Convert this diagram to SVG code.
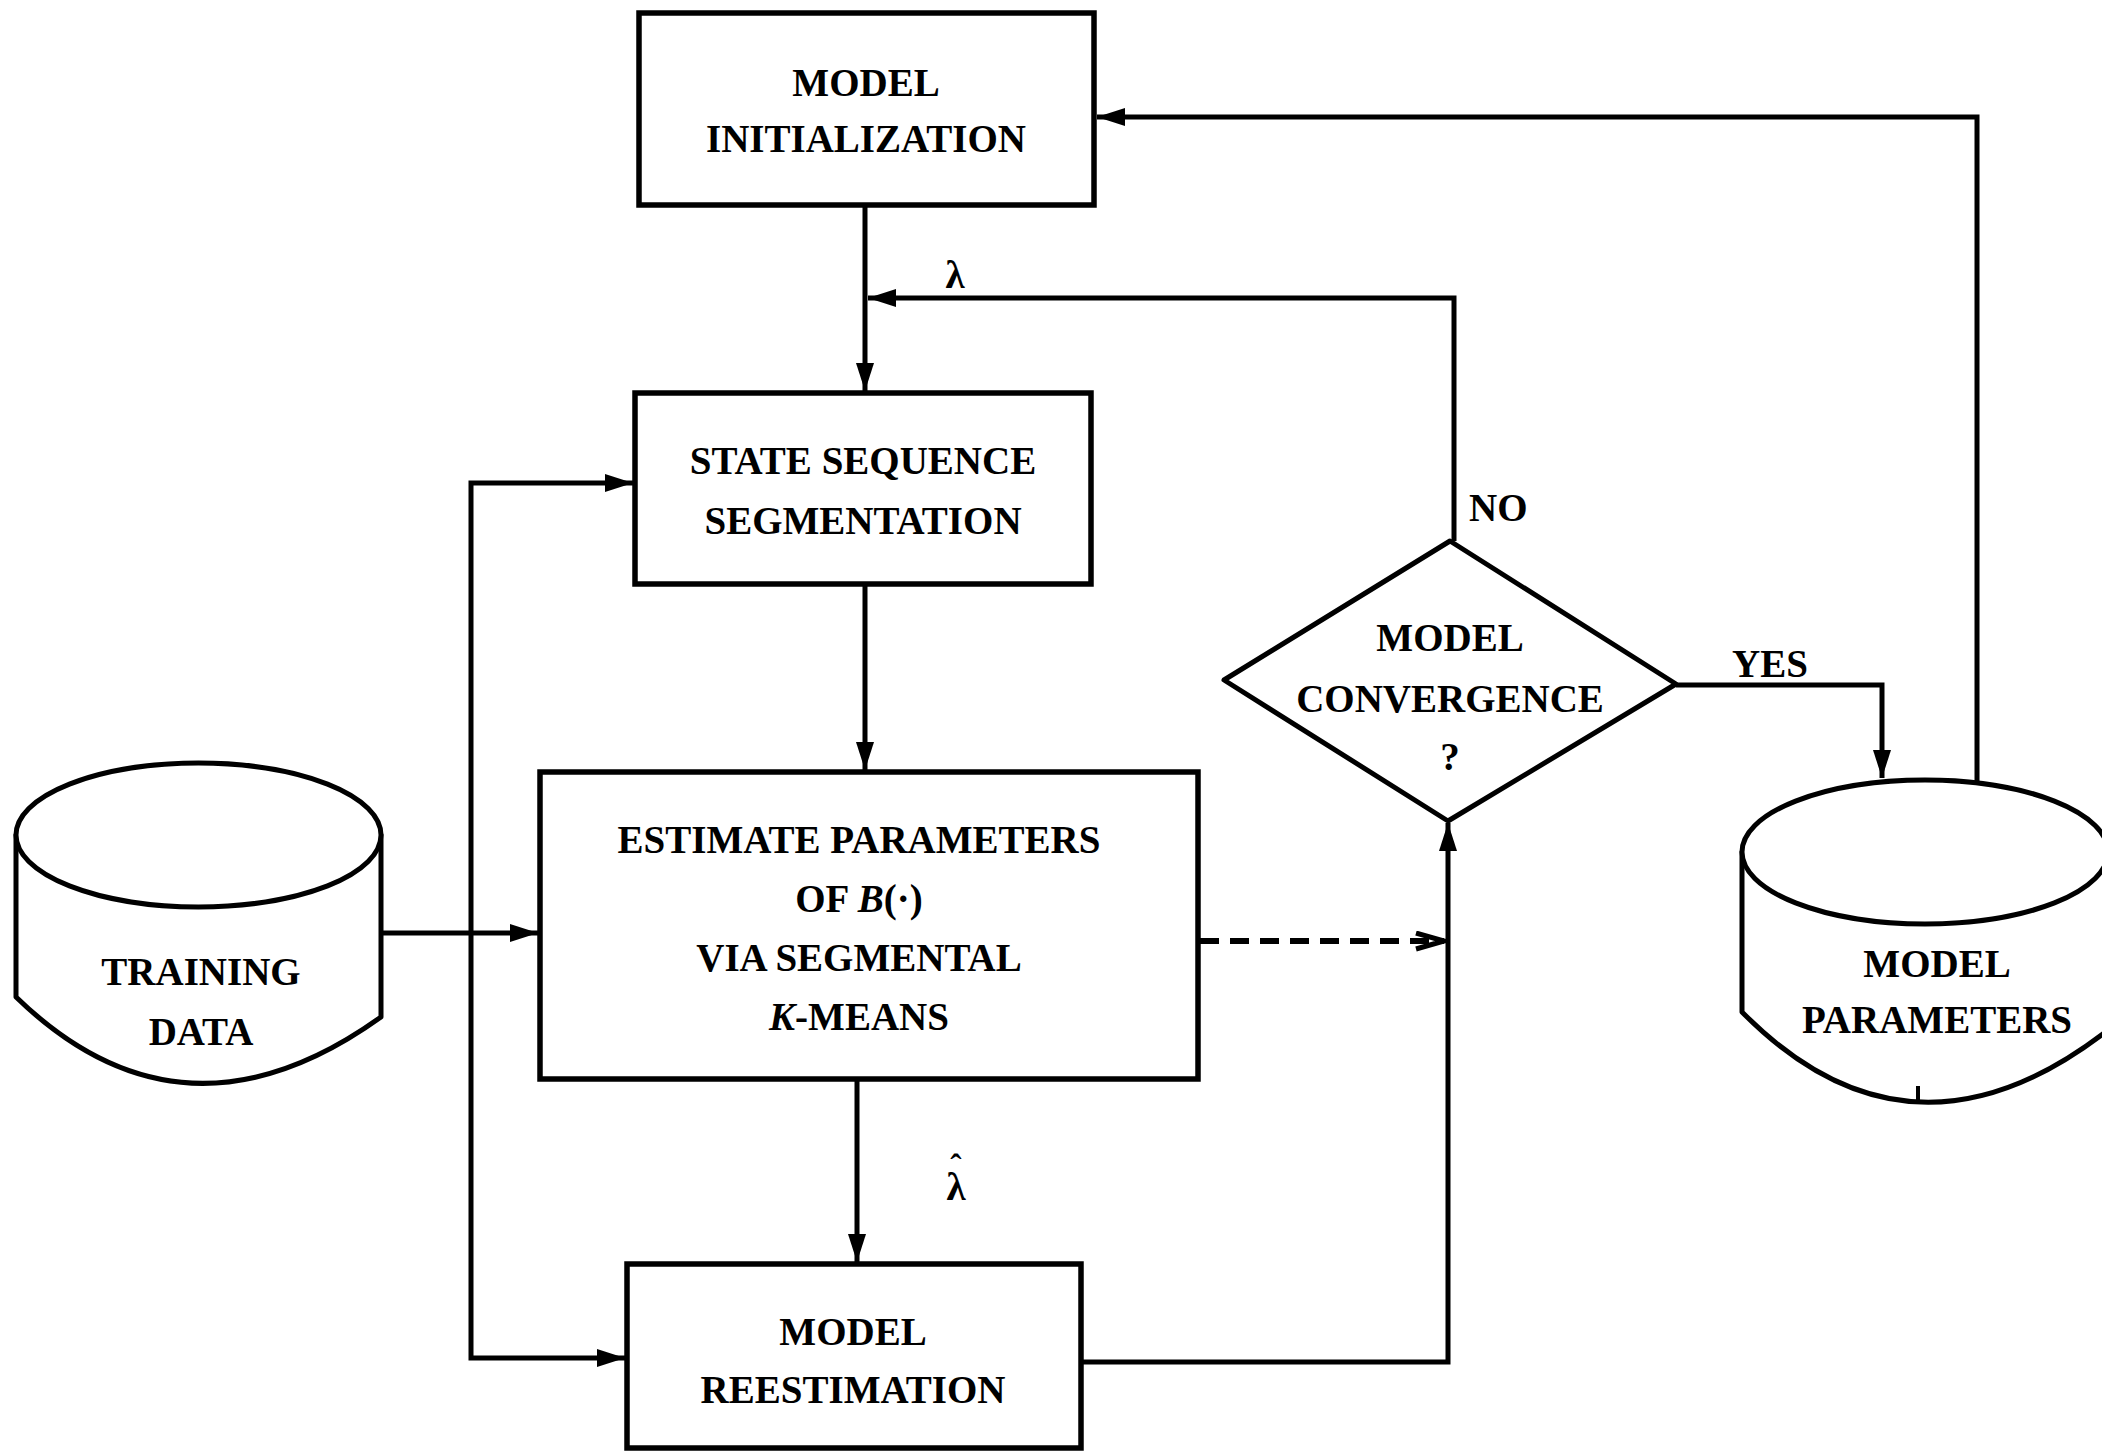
<svg xmlns="http://www.w3.org/2000/svg" width="2102" height="1451" viewBox="0 0 2102 1451">
  <style>
    .box { fill: #fff; stroke: #000; stroke-width: 5.5; }
    .shape { fill: #fff; stroke: #000; stroke-width: 5; stroke-linejoin: round; }
    .wire { fill: none; stroke: #000; stroke-width: 5; stroke-linejoin: miter; }
    .dash { fill: none; stroke: #000; stroke-width: 6; stroke-dasharray: 19 11; }
    text { font-family: "Liberation Serif", "Times New Roman", serif; font-weight: bold; font-size: 39px; fill: #000; text-anchor: middle; }
    .lbl { text-anchor: start; }
    .it { font-style: italic; }
    .hat { font-size: 34px; }
  </style>
  <defs>
    <marker id="arrow" markerUnits="userSpaceOnUse" markerWidth="30" markerHeight="20" refX="28" refY="9" orient="auto">
      <path d="M0,0 L28,9 L0,18 Z" fill="#000"/>
    </marker>
    <marker id="chevron" markerUnits="userSpaceOnUse" markerWidth="34" markerHeight="22" refX="30" refY="10" orient="auto">
      <path d="M2,2 L30,10 L2,18" fill="none" stroke="#000" stroke-width="5"/>
    </marker>
  </defs>

  <rect width="2102" height="1451" fill="#fff"/>

  <!-- connectors -->
  <g id="connectors">
    <path class="wire" d="M865,205 L865,391" marker-end="url(#arrow)"/>
    <path class="wire" d="M1454,541 L1454,298 L868,298" marker-end="url(#arrow)"/>
    <path class="wire" d="M865,584 L865,770" marker-end="url(#arrow)"/>
    <path class="wire" d="M857,1078 L857,1262" marker-end="url(#arrow)"/>
    <path class="wire" d="M381,933 L538,933" marker-end="url(#arrow)"/>
    <path class="wire" d="M471,933 L471,483 L633,483" marker-end="url(#arrow)"/>
    <path class="wire" d="M471,933 L471,1358 L625,1358" marker-end="url(#arrow)"/>
    <path class="wire" d="M1081,1362 L1448,1362 L1448,823" marker-end="url(#arrow)"/>
    <path class="dash" d="M1200,941 L1444,941" marker-end="url(#chevron)"/>
    <path class="wire" d="M1676,685 L1882,685 L1882,778" marker-end="url(#arrow)"/>
    <path class="wire" d="M1977,782 L1977,117 L1097,117" marker-end="url(#arrow)"/>
  </g>

  <!-- process boxes -->
  <g id="model-initialization">
    <rect class="box" x="639" y="13" width="455" height="192"/>
    <text x="866" y="96">MODEL</text>
    <text x="866" y="152">INITIALIZATION</text>
  </g>

  <g id="state-sequence-segmentation">
    <rect class="box" x="635" y="393" width="456" height="191"/>
    <text x="863" y="474">STATE SEQUENCE</text>
    <text x="863" y="534">SEGMENTATION</text>
  </g>

  <g id="estimate-parameters">
    <rect class="box" x="540" y="772" width="658" height="307"/>
    <text x="859" y="853">ESTIMATE PARAMETERS</text>
    <text x="859" y="912">OF <tspan class="it">B</tspan>(·)</text>
    <text x="859" y="971">VIA SEGMENTAL</text>
    <text x="859" y="1030"><tspan class="it">K</tspan>-MEANS</text>
  </g>

  <g id="model-reestimation">
    <rect class="box" x="627" y="1264" width="454" height="184"/>
    <text x="853" y="1345">MODEL</text>
    <text x="853" y="1403">REESTIMATION</text>
  </g>

  <!-- decision -->
  <g id="model-convergence">
    <polygon class="shape" points="1450,541 1676,684 1448,821 1224,680"/>
    <text x="1450" y="651">MODEL</text>
    <text x="1450" y="712">CONVERGENCE</text>
    <text x="1450" y="770">?</text>
  </g>

  <!-- data stores -->
  <g id="training-data">
    <path class="shape" d="M16,835 L16,997 Q183,1159 381,1017 L381,835 Z"/>
    <ellipse class="shape" cx="198.5" cy="835" rx="182.5" ry="72"/>
    <text x="201" y="985">TRAINING</text>
    <text x="201" y="1045">DATA</text>
  </g>

  <g id="model-parameters">
    <path class="shape" d="M1742,852 L1742,1012 Q1911,1183 2108,1030 L2108,852 Z"/>
    <ellipse class="shape" cx="1925" cy="852" rx="183" ry="72"/>
    <line x1="1918" y1="1086" x2="1918" y2="1100" stroke="#000" stroke-width="4"/>
    <text x="1937" y="977">MODEL</text>
    <text x="1937" y="1033">PARAMETERS</text>
  </g>

  <!-- edge labels -->
  <g id="labels">
    <text x="955" y="288">λ</text>
    <!-- lambda-hat: circumflex set just above the lambda -->
    <text x="956" y="1200">λ<tspan class="hat" x="956" y="1178">ˆ</tspan></text>
    <text class="lbl" x="1469" y="521">NO</text>
    <text x="1770" y="677">YES</text>
  </g>
</svg>
